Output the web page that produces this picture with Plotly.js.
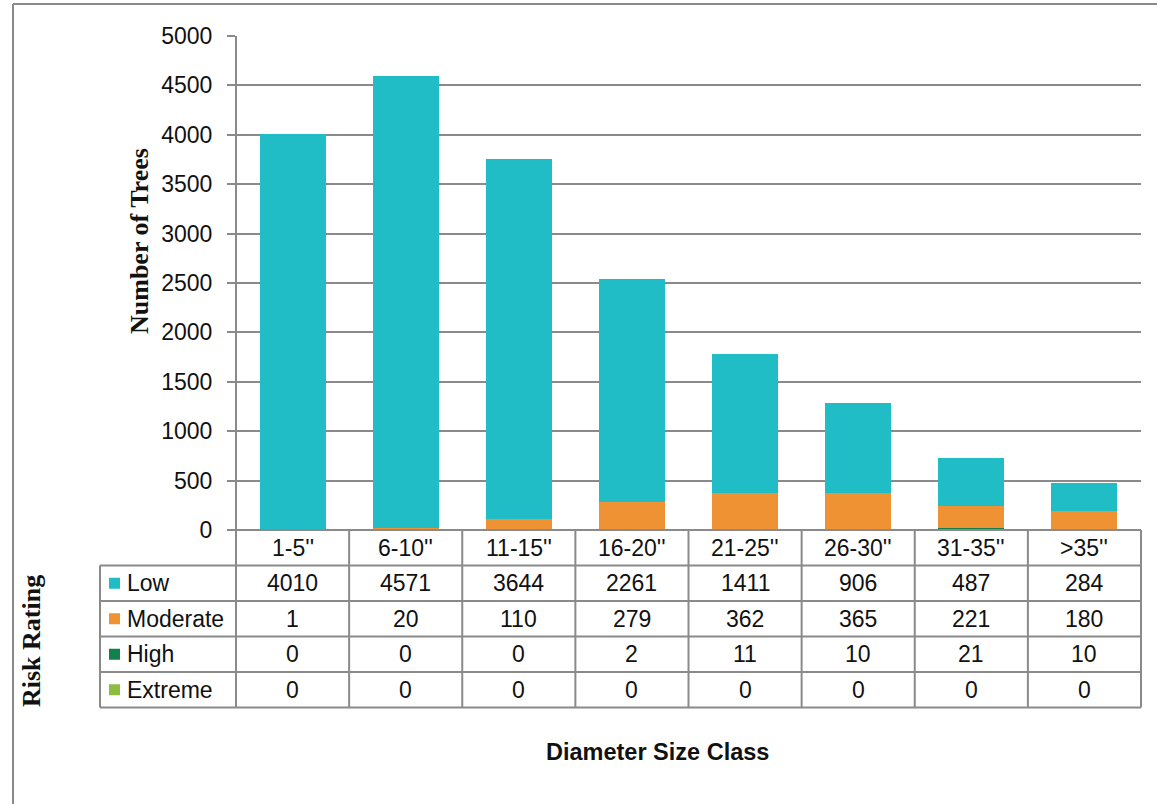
<!DOCTYPE html>
<html>
<head>
<meta charset="utf-8">
<script src="https://cdn.plot.ly/plotly-3.0.1.min.js"></script>
<style>html,body{margin:0;padding:0;background:#fff;}#chart{width:1157px;height:804px;}</style>
</head>
<body>
<div id="chart"></div>
<script>
// ---- data ----
const categories = ['1-5"', '6-10"', '11-15"', '16-20"', '21-25"', '26-30"', '31-35"', '>35"'];
const seriesNames = ['Low', 'Moderate', 'High', 'Extreme'];
const lowValues = [4010, 4571, 3644, 2261, 1411, 906, 487, 284];
const moderateValues = [1, 20, 110, 279, 362, 365, 221, 180];
const highValues = [0, 0, 0, 2, 11, 10, 21, 10];
const extremeValues = [0, 0, 0, 0, 0, 0, 0, 0];
const yTickValues = [0, 500, 1000, 1500, 2000, 2500, 3000, 3500, 4000, 4500, 5000];

// ---- style ----
const colors = {Low: '#20BDC6', Moderate: '#EE9233', High: '#11804A', Extreme: '#8DBD3F'};
const gridColor = '#8a8a8a';
const textColor = '#111';
const sans = 'Liberation Sans, Arial, sans-serif';
const serif = 'Liberation Serif, Times New Roman, serif';
const tableFontSize = 23;

const W = 1157, H = 804;
const L = 236, R = 16, T = 36, B = 274;
const PW = W - L - R, PH = H - T - B;
const px = x => (x - L) / PW;
const py = y => (H - B - y) / PH;

const valuesBySeries = {Low: lowValues, Moderate: moderateValues, High: highValues, Extreme: extremeValues};

// stacking order bottom -> top
const stackOrder = ['Extreme', 'High', 'Moderate', 'Low'];
const traces = stackOrder.map(name => ({
  type: 'bar',
  name: name,
  x: categories,
  y: valuesBySeries[name],
  marker: {color: colors[name], line: {width: 0}},
  hoverinfo: 'x+y+name',
  showlegend: false
}));

// table geometry (pixel rows)
const rowEdges = [530, 565.5, 601, 636.5, 672, 707.5];
const legendLeft = 100;

const shapes = [];
const annotations = [];
const line = (x0, y0, x1, y1, xref) => ({
  type: 'line', xref: xref || 'paper', yref: 'paper',
  x0: x0, y0: y0, x1: x1, y1: y1,
  line: {color: gridColor, width: 2}
});

// outer frame
shapes.push(line(px(13), py(4), px(13), py(806)));
shapes.push(line(px(13), py(4), px(1160), py(4)));

// y axis line extended through the table
shapes.push(line(0, 1, 0, py(rowEdges[5])));
// right border of the table
shapes.push(line(1, py(rowEdges[0]), 1, py(rowEdges[5])));
// category separators
for (let i = 0; i < categories.length - 1; i++) {
  shapes.push({type: 'line', xref: 'x', yref: 'paper', x0: i + 0.5, x1: i + 0.5,
    y0: py(rowEdges[0]), y1: py(rowEdges[5]), line: {color: gridColor, width: 2}});
}
// horizontal table lines
shapes.push(line(px(228), py(rowEdges[0]), 1, py(rowEdges[0])));
for (let r = 1; r < rowEdges.length; r++) {
  shapes.push(line(px(legendLeft), py(rowEdges[r]), 1, py(rowEdges[r])));
}
// legend column left border
shapes.push(line(px(legendLeft), py(rowEdges[1]), px(legendLeft), py(rowEdges[5])));

const mid = r => (rowEdges[r] + rowEdges[r + 1]) / 2;

// header row (category labels)
categories.forEach((c, i) => {
  annotations.push({xref: 'x', yref: 'paper', x: c, y: py(mid(0)), text: c.replace('"', "''"),
    showarrow: false, xanchor: 'center', yanchor: 'middle', font: {family: sans, size: tableFontSize, color: textColor}});
});
// data rows
seriesNames.forEach((name, r) => {
  const yc = mid(r + 1);
  shapes.push({type: 'rect', xref: 'paper', yref: 'paper', x0: px(109), x1: px(120),
    y0: py(yc - 5.5), y1: py(yc + 5.5), fillcolor: colors[name], line: {width: 0}});
  annotations.push({xref: 'paper', yref: 'paper', x: px(125), y: py(yc), text: name,
    showarrow: false, xanchor: 'left', yanchor: 'middle', font: {family: sans, size: tableFontSize, color: textColor}});
  valuesBySeries[name].forEach((v, i) => {
    annotations.push({xref: 'x', yref: 'paper', x: categories[i], y: py(yc), text: String(v),
      showarrow: false, xanchor: 'center', yanchor: 'middle', font: {family: sans, size: tableFontSize, color: textColor}});
  });
});

// titles
annotations.push({xref: 'paper', yref: 'paper', x: px(139), y: py(241), text: '<b>Number of Trees</b>',
  textangle: -90, showarrow: false, xanchor: 'center', yanchor: 'middle', font: {family: serif, size: 26, color: textColor}});
annotations.push({xref: 'paper', yref: 'paper', x: px(31), y: py(641), text: '<b>Risk Rating</b>',
  textangle: -90, showarrow: false, xanchor: 'center', yanchor: 'middle', font: {family: serif, size: 26, color: textColor}});
annotations.push({xref: 'paper', yref: 'paper', x: px(657), y: py(752), text: '<b>Diameter Size Class</b>',
  showarrow: false, xanchor: 'center', yanchor: 'middle', font: {family: sans, size: 23.5, color: textColor}});

const layout = {
  width: W, height: H,
  margin: {l: L, r: R, t: T, b: B, pad: 0},
  paper_bgcolor: '#fff', plot_bgcolor: '#fff',
  barmode: 'stack',
  bargap: 0.416,
  showlegend: false,
  xaxis: {type: 'category', range: [-0.5, 7.5], showticklabels: false, showgrid: false,
    zeroline: false, showline: false, ticks: '', fixedrange: true},
  yaxis: {range: [0, 5000], tickvals: yTickValues, showgrid: true, gridcolor: gridColor, gridwidth: 2,
    zeroline: true, zerolinecolor: gridColor, zerolinewidth: 2,
    ticks: 'outside', ticklen: 8, tickwidth: 2, tickcolor: gridColor, ticklabelstandoff: 10,
    showline: false, tickfont: {family: sans, size: 23, color: textColor}, fixedrange: true},
  shapes: shapes,
  annotations: annotations
};

Plotly.newPlot('chart', traces, layout, {displayModeBar: false, staticPlot: true});
</script>
</body>
</html>
